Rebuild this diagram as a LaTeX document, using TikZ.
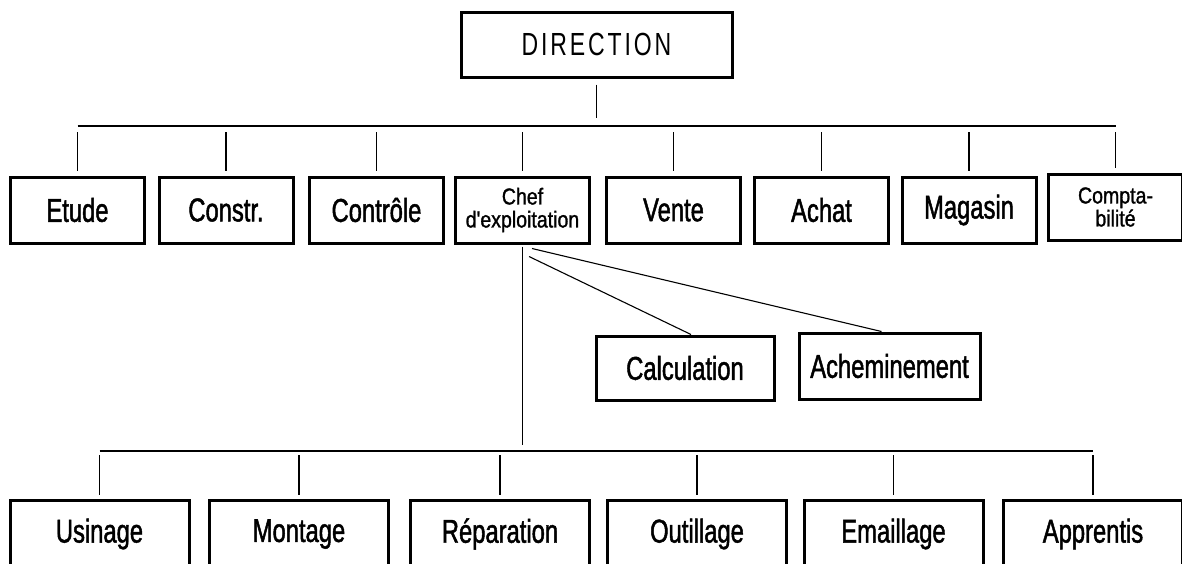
\documentclass[tikz,border=0pt]{standalone}
\usepackage{fontspec}
\setmainfont{Liberation Sans}[FakeStretch=0.72]
\newfontfamily\labelfont{Liberation Sans}[FakeStretch=0.72, FakeBold=1.4]
\newfontfamily\smallfont{Liberation Sans}[FakeStretch=0.85, FakeBold=1.2]
\usepackage{tikz}
\usetikzlibrary{positioning}
\tikzstyle{box} = [draw, line width=3pt, minimum width=134pt, minimum height=66pt, inner sep=0pt, align=center, font=\labelfont\fontsize{33}{34}\selectfont]
\tikzstyle{smallbox} = [box, font=\smallfont\fontsize{23}{23}\selectfont]
\tikzstyle{widebox} = [box, minimum width=179pt, minimum height=68pt]
\tikzstyle{link} = [line width=1.1pt]

\begin{document}
\begin{tikzpicture}[x=1pt, y=-1pt]
            \useasboundingbox (0,0) rectangle (1182,563);
            \coordinate (topbus) at (0,126);
            \coordinate (lowbus) at (0,451);

            \node[box, minimum width=271pt, minimum height=65pt, font={\fontsize{32}{33}\selectfont\addfontfeature{LetterSpace=9}}] (direction) at (596.5,44.5) {DIRECTION};

            % services
            \node[box] (etude) at (77.5,210) {Etude};
            \node[box] (constr) at (226,210) {Constr.};
            \node[box] (controle) at (376.5,210) {Contrôle};
            \node[smallbox] (chef) at (522.5,210) {Chef\\d'exploitation};
            \node[box] (vente) at (673.5,210) {Vente};
            \node[box] (achat) at (821.5,210) {Achat};
            \node[box] (magasin) at (969,210) {Magasin};
            \node[smallbox] (compta) at (1115.5,207) {Compta-\\bilité};

            \node[box, minimum width=178pt, minimum height=64pt] (calcul) at (685,368) {Calculation};
            \node[box, minimum width=181pt] (achem) at (889.5,366) {Acheminement};

            % ateliers
            \node[widebox] (usinage) at (99.5,534) {Usinage};
            \node[widebox] (montage) at (299,534) {Montage};
            \node[widebox] (reparation) at (500,534) {Réparation};
            \node[widebox] (outillage) at (697,534) {Outillage};
            \node[widebox] (emaillage) at (893.5,534) {Emaillage};
            \node[widebox] (apprentis) at (1093,534) {Apprentis};

            \draw [link, shorten <=6pt, shorten >=8pt] (direction.south) -- (direction.south |- topbus);
            \draw [link] (etude.north |- topbus) -- (compta.north |- topbus);
            \draw [link, shorten <=6pt, shorten >=5pt] (etude.north |- topbus) -- (etude.north);
            \draw [link, shorten <=6pt, shorten >=5pt] (constr.north |- topbus) -- (constr.north);
            \draw [link, shorten <=6pt, shorten >=5pt] (controle.north |- topbus) -- (controle.north);
            \draw [link, shorten <=6pt, shorten >=5pt] (chef.north |- topbus) -- (chef.north);
            \draw [link, shorten <=6pt, shorten >=5pt] (vente.north |- topbus) -- (vente.north);
            \draw [link, shorten <=6pt, shorten >=5pt] (achat.north |- topbus) -- (achat.north);
            \draw [link, shorten <=6pt, shorten >=5pt] (magasin.north |- topbus) -- (magasin.north);
            \draw [link, shorten <=6pt, shorten >=5pt] (compta.north |- topbus) -- (compta.north);

            \draw [link] (chef.south) ++(6.5,12) -- ([xshift=6pt]calcul.north);
            \draw [link] (chef.south) ++(9.5,4) -- ([xshift=-8pt]achem.north);

            \draw [link, shorten <=2pt, shorten >=6pt] (chef.south) -- (chef.south |- lowbus);
            \draw [link] (usinage.north |- lowbus) -- (apprentis.north |- lowbus);
            \draw [link, shorten <=4pt, shorten >=4pt] (usinage.north |- lowbus) -- (usinage.north);
            \draw [link, shorten <=4pt, shorten >=4pt] (montage.north |- lowbus) -- (montage.north);
            \draw [link, shorten <=4pt, shorten >=4pt] (reparation.north |- lowbus) -- (reparation.north);
            \draw [link, shorten <=4pt, shorten >=4pt] (outillage.north |- lowbus) -- (outillage.north);
            \draw [link, shorten <=4pt, shorten >=4pt] (emaillage.north |- lowbus) -- (emaillage.north);
            \draw [link, shorten <=4pt, shorten >=4pt] (apprentis.north |- lowbus) -- (apprentis.north);
\end{tikzpicture}
\end{document}
